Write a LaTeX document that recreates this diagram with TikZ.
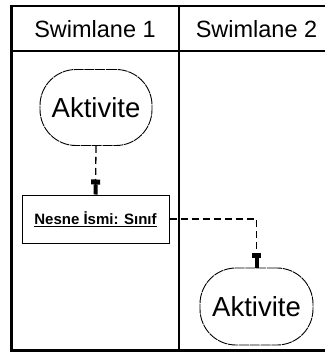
\documentclass[tikz,border=0pt]{standalone}
\usepackage{fontspec}
\setmainfont{Liberation Sans}
\usetikzlibrary{arrows.meta}
\tikzset{
  frameline/.style={line width=2.4pt},
  laneline/.style={line width=1.2pt},
  lanetitle/.style={font=\fontsize{23.5}{26}\selectfont, inner sep=0pt},
  activity/.style={draw, rounded corners=36pt, minimum width=112pt,
    minimum height=76pt, inner sep=0pt, line width=0.9pt,
    dash pattern=on 10pt off 0.8pt, font=\fontsize{27.5}{30}\selectfont},
  objectbox/.style={draw, minimum width=147pt, minimum height=48pt,
    inner sep=0pt, line width=1pt, font=\bfseries\fontsize{15}{18}\selectfont},
  flow/.style={line width=1.3pt, dash pattern=on 7pt off 4pt,
    -{Rectangle[width=9pt,length=5pt] Rectangle[width=4pt,length=10pt]}}
}
\begin{document}
\begin{tikzpicture}[x=1pt,y=-1pt]
\useasboundingbox (0,0) rectangle (325,353);

% swimlane frame
\draw[line width=2pt] (10,6.5) -- (325,6.5);
\draw[frameline] (11.5,5.5) -- (11.5,351.7);
\draw[frameline] (10.3,350.5) -- (325,350.5);
\draw[laneline] (11.5,51) -- (325,51);
\draw[line width=1.3pt] (179,6) -- (179,350);

% lane titles
\node[lanetitle] (t1) at (95,29) {Swimlane 1};
\node[lanetitle] (t2) at (256.5,29) {Swimlane 2};

% activities and object
\node[activity] (act1) at (96,107.5) {Aktivite};
\node[objectbox] (obj) at (95.5,219) {\underline{Nesne İsmi: Sınıf}};
\node[activity, minimum width=113pt, minimum height=77pt] (act2) at (256.5,306.5) {Aktivite};

% object flows
\draw[flow] (act1.south) -- (obj.north);
\draw[flow] (obj.east) -| (act2.north);
\end{tikzpicture}
\end{document}
